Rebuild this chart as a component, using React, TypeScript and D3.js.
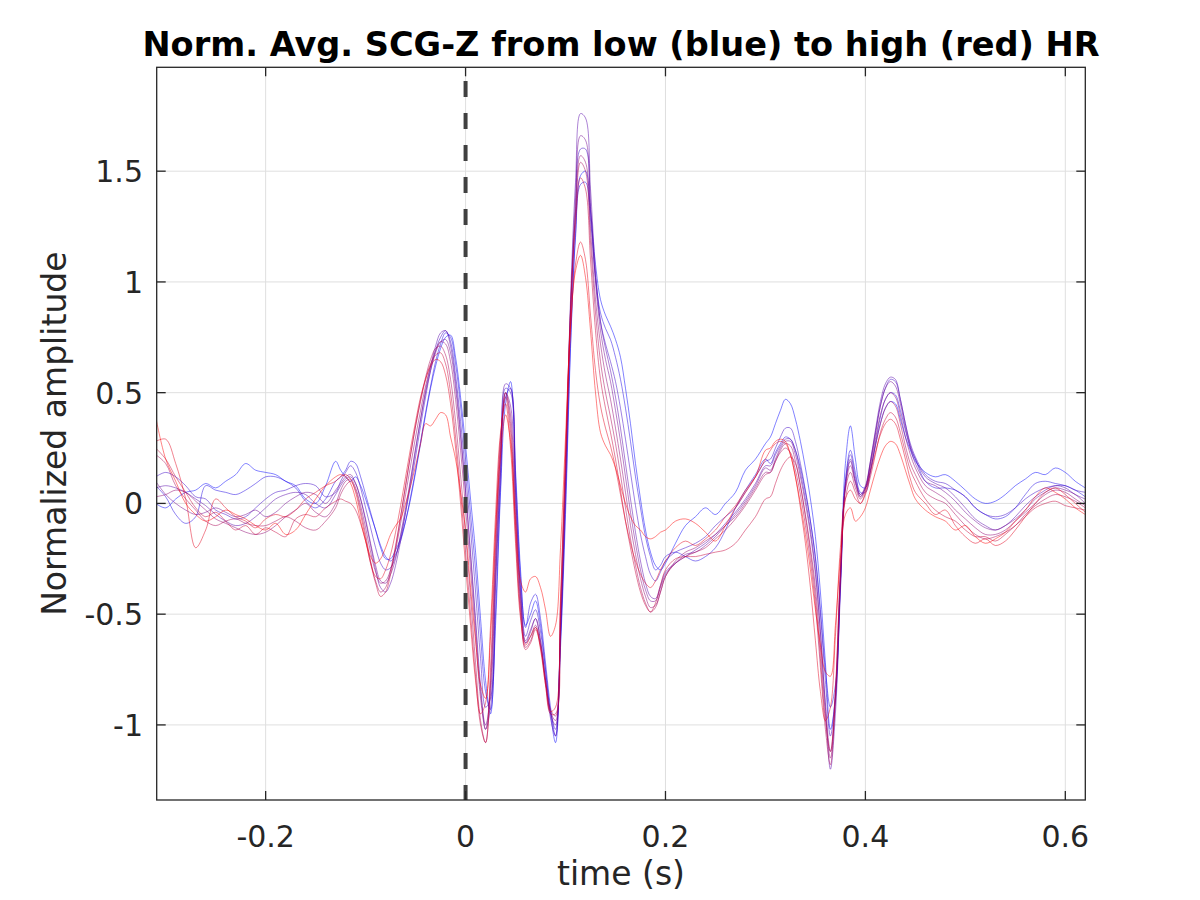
import React from "react";
import * as d3 from "d3";

// ---- sampling grid (s) ----
const r3 = (v: number) => Math.round(v * 10000) / 10000;
const T: number[] = [
  ...d3.range(19).map((i) => r3(-0.31 + i * 0.01)),
  ...d3.range(66).map((i) => r3(-0.125 + i * 0.005)),
  ...d3.range(10).map((i) => r3(0.21 + i * 0.01)),
  ...d3.range(30).map((i) => r3(0.305 + i * 0.005)),
  ...d3.range(17).map((i) => r3(0.46 + i * 0.01)),
];

// ---- series, low HR (blue) -> high HR (red) ----
const hr1 = [
  0.00, -0.02, 0.02, 0.05, 0.06, 0.09, 0.07, 0.10, 0.13, 0.18, 0.15, 0.14, 0.13, 0.10, 0.08, 0.02, 0.00, 0.08, 0.19,
  0.15, 0.12, 0.10, 0.12, 0.08, 0.02, -0.05, -0.12, -0.20, -0.25,
  -0.25, -0.21, -0.16, -0.08, 0.02, 0.14, 0.27, 0.40, 0.52, 0.62,
  0.70, 0.75, 0.76, 0.66, 0.48, 0.26, 0.02, -0.22, -0.52, -0.80,
  -0.95, -0.55, 0.05, 0.45, 0.55, 0.15, -0.30, -0.55, -0.50, -0.44,
  -0.55, -0.75, -0.95, -1.08, -0.65, -0.05, 0.70, 1.22, 1.48, 1.50,
  1.32, 1.08, 0.92, 0.85, 0.80, 0.74, 0.66, 0.52, 0.36, 0.18,
  0.02, -0.12, -0.22, -0.28, -0.30, -0.27,
  -0.18, -0.10, -0.06, -0.02, -0.05, 0.00, 0.05, 0.15, 0.20, 0.27,
  0.30, 0.36, 0.42, 0.47, 0.45, 0.38, 0.28, 0.16, 0.02, -0.15,
  -0.40, -0.72, -1.02, -0.88, -0.35, 0.18, 0.35, 0.20, 0.08, 0.07,
  0.15, 0.26, 0.36, 0.43, 0.46, 0.45, 0.38, 0.30, 0.24, 0.19,
  0.14, 0.12, 0.13, 0.10, 0.06, 0.02, 0.00, 0.01, 0.04, 0.08, 0.11, 0.14, 0.13, 0.16, 0.14, 0.10, 0.07,
];
const hr2 = [
  0.08, 0.03, -0.05, -0.09, -0.06, 0.08, 0.06, 0.05, 0.04, 0.06, 0.09, 0.12, 0.12, 0.10, 0.07, 0.01, -0.02, 0.02, 0.10,
  0.12, 0.15, 0.19, 0.18, 0.12, 0.04, -0.04, -0.12, -0.19, -0.24,
  -0.26, -0.23, -0.17, -0.08, 0.03, 0.15, 0.28, 0.41, 0.53, 0.64,
  0.72, 0.77, 0.75, 0.63, 0.44, 0.20, -0.05, -0.30, -0.60, -0.85,
  -0.93, -0.50, 0.08, 0.48, 0.52, 0.12, -0.33, -0.56, -0.45, -0.41,
  -0.52, -0.72, -0.92, -1.05, -0.62, 0.00, 0.72, 1.20, 1.44, 1.45,
  1.28, 1.02, 0.86, 0.79, 0.74, 0.66, 0.56, 0.43, 0.28, 0.12,
  -0.02, -0.15, -0.24, -0.30, -0.28, -0.24,
  -0.22, -0.24, -0.26, -0.24, -0.20, -0.12, -0.02, 0.06, 0.13, 0.20,
  0.18, 0.23, 0.27, 0.30, 0.29, 0.24, 0.16, 0.05, -0.08, -0.24,
  -0.48, -0.75, -0.92, -0.82, -0.38, 0.10, 0.24, 0.14, 0.05, 0.05,
  0.14, 0.27, 0.39, 0.47, 0.50, 0.49, 0.42, 0.33, 0.25, 0.20,
  0.10, 0.07, 0.07, 0.06, 0.03, -0.02, -0.05, -0.07, -0.06, -0.02, 0.04, 0.09, 0.10, 0.09, 0.08, 0.06, 0.03,
];
const hr3 = [
  0.12, 0.14, 0.12, 0.08, 0.03, 0.02, -0.03, -0.05, -0.07, -0.06, -0.02, 0.02, 0.05, 0.06, 0.08, 0.09, 0.08, 0.03, 0.05,
  0.10, 0.14, 0.17, 0.14, 0.07, -0.02, -0.11, -0.20, -0.27, -0.30,
  -0.29, -0.24, -0.15, -0.04, 0.08, 0.21, 0.35, 0.48, 0.60, 0.69,
  0.75, 0.78, 0.73, 0.58, 0.37, 0.13, -0.12, -0.40, -0.70, -0.92,
  -0.88, -0.35, 0.15, 0.52, 0.50, 0.06, -0.38, -0.60, -0.53, -0.48,
  -0.58, -0.76, -0.94, -1.02, -0.58, 0.06, 0.82, 1.32, 1.60, 1.60,
  1.34, 1.02, 0.82, 0.72, 0.64, 0.55, 0.43, 0.29, 0.14, -0.01,
  -0.14, -0.24, -0.32, -0.35, -0.31, -0.26,
  -0.22, -0.20, -0.18, -0.15, -0.10, -0.06, -0.02, 0.05, 0.12, 0.19,
  0.20, 0.25, 0.30, 0.34, 0.34, 0.28, 0.18, 0.06, -0.08, -0.25,
  -0.50, -0.80, -1.05, -0.86, -0.35, 0.10, 0.22, 0.12, 0.04, 0.07,
  0.18, 0.31, 0.44, 0.52, 0.56, 0.55, 0.47, 0.36, 0.27, 0.21,
  0.13, 0.10, 0.09, 0.06, 0.03, -0.02, -0.05, -0.06, -0.05, -0.02, 0.02, 0.05, 0.07, 0.08, 0.08, 0.06, 0.05,
];
const hr4 = [
  0.07, 0.08, 0.07, 0.05, 0.02, -0.01, -0.05, -0.08, -0.10, -0.09, -0.06, -0.02, 0.02, 0.04, 0.05, 0.04, 0.00, -0.02, 0.04,
  0.08, 0.11, 0.12, 0.09, 0.02, -0.08, -0.19, -0.30, -0.38, -0.40,
  -0.36, -0.28, -0.17, -0.04, 0.10, 0.24, 0.38, 0.51, 0.62, 0.71,
  0.77, 0.78, 0.71, 0.55, 0.32, 0.06, -0.22, -0.52, -0.82, -1.02,
  -0.92, -0.38, 0.14, 0.54, 0.52, 0.05, -0.40, -0.63, -0.58, -0.52,
  -0.62, -0.80, -0.97, -1.05, -0.60, 0.10, 0.92, 1.45, 1.76, 1.74,
  1.42, 1.05, 0.82, 0.70, 0.60, 0.48, 0.34, 0.18, 0.02, -0.13,
  -0.26, -0.36, -0.42, -0.43, -0.37, -0.31,
  -0.27, -0.24, -0.21, -0.18, -0.14, -0.09, -0.04, 0.02, 0.09, 0.17,
  0.17, 0.22, 0.26, 0.29, 0.29, 0.24, 0.14, 0.02, -0.12, -0.30,
  -0.58, -0.92, -1.20, -0.95, -0.40, 0.08, 0.20, 0.10, 0.03, 0.07,
  0.19, 0.33, 0.46, 0.54, 0.57, 0.56, 0.47, 0.36, 0.26, 0.20,
  0.12, 0.09, 0.07, 0.03, -0.02, -0.07, -0.10, -0.12, -0.10, -0.06, -0.01, 0.03, 0.06, 0.08, 0.07, 0.04, 0.02,
];
const hr5 = [
  0.10, 0.04, 0.00, -0.03, -0.05, -0.04, -0.02, -0.04, -0.06, -0.05, -0.03, -0.06, -0.04, 0.00, 0.03, 0.05, 0.04, 0.00, 0.06,
  0.09, 0.12, 0.13, 0.09, 0.02, -0.07, -0.18, -0.28, -0.35, -0.36,
  -0.32, -0.25, -0.14, -0.02, 0.11, 0.25, 0.38, 0.50, 0.60, 0.68,
  0.73, 0.74, 0.68, 0.52, 0.30, 0.05, -0.24, -0.55, -0.85, -1.00,
  -0.86, -0.30, 0.20, 0.50, 0.44, 0.00, -0.42, -0.62, -0.57, -0.52,
  -0.62, -0.80, -0.95, -1.00, -0.56, 0.10, 0.88, 1.38, 1.66, 1.64,
  1.34, 1.00, 0.78, 0.65, 0.55, 0.42, 0.28, 0.12, -0.04, -0.18,
  -0.30, -0.39, -0.44, -0.44, -0.38, -0.32,
  -0.27, -0.23, -0.22, -0.19, -0.15, -0.10, -0.05, 0.01, 0.08, 0.16,
  0.15, 0.20, 0.25, 0.28, 0.28, 0.22, 0.12, 0.00, -0.14, -0.32,
  -0.58, -0.90, -1.12, -0.90, -0.36, 0.08, 0.19, 0.10, 0.04, 0.08,
  0.19, 0.32, 0.44, 0.52, 0.55, 0.53, 0.45, 0.34, 0.25, 0.18,
  0.10, 0.08, 0.05, 0.01, -0.04, -0.08, -0.11, -0.12, -0.10, -0.07, -0.03, 0.02, 0.05, 0.07, 0.06, 0.04, 0.00,
];
const hr6 = [
  0.03, 0.04, 0.06, 0.05, 0.01, -0.03, -0.07, -0.09, -0.11, -0.13, -0.14, -0.13, -0.10, -0.06, -0.03, 0.00, -0.04, -0.06, 0.00,
  0.06, 0.10, 0.11, 0.07, -0.01, -0.11, -0.22, -0.31, -0.36, -0.35,
  -0.30, -0.21, -0.09, 0.04, 0.17, 0.30, 0.42, 0.53, 0.62, 0.69,
  0.73, 0.72, 0.64, 0.47, 0.24, -0.02, -0.30, -0.60, -0.88, -1.02,
  -0.82, -0.25, 0.24, 0.50, 0.40, -0.05, -0.45, -0.63, -0.60, -0.55,
  -0.64, -0.80, -0.94, -0.98, -0.52, 0.14, 0.86, 1.32, 1.57, 1.54,
  1.24, 0.92, 0.72, 0.58, 0.47, 0.34, 0.20, 0.05, -0.10, -0.23,
  -0.34, -0.42, -0.47, -0.46, -0.40, -0.33,
  -0.26, -0.22, -0.20, -0.17, -0.14, -0.10, -0.06, 0.00, 0.07, 0.14,
  0.14, 0.19, 0.24, 0.27, 0.26, 0.19, 0.08, -0.05, -0.20, -0.38,
  -0.65, -0.95, -1.15, -0.88, -0.32, 0.07, 0.17, 0.09, 0.03, 0.07,
  0.17, 0.29, 0.40, 0.47, 0.50, 0.48, 0.40, 0.30, 0.22, 0.16,
  0.08, 0.05, 0.02, -0.03, -0.07, -0.11, -0.14, -0.14, -0.12, -0.08, -0.04, 0.00, 0.04, 0.06, 0.05, 0.02, -0.01,
];
const hr7 = [
  0.22, 0.18, 0.08, 0.02, -0.03, -0.08, -0.10, -0.08, -0.07, -0.09, -0.10, -0.10, -0.08, -0.06, -0.08, -0.11, -0.12, -0.08, -0.02,
  0.04, 0.08, 0.10, 0.06, -0.03, -0.14, -0.26, -0.35, -0.40, -0.38,
  -0.30, -0.19, -0.06, 0.08, 0.22, 0.35, 0.47, 0.57, 0.65, 0.70,
  0.71, 0.67, 0.56, 0.37, 0.13, -0.14, -0.42, -0.72, -0.98, -1.08,
  -0.80, -0.20, 0.28, 0.50, 0.36, -0.10, -0.48, -0.65, -0.62, -0.56,
  -0.64, -0.80, -0.93, -0.96, -0.48, 0.18, 0.88, 1.30, 1.54, 1.50,
  1.18, 0.86, 0.64, 0.50, 0.39, 0.27, 0.13, -0.02, -0.16, -0.28,
  -0.38, -0.45, -0.49, -0.47, -0.40, -0.33,
  -0.27, -0.24, -0.22, -0.20, -0.16, -0.12, -0.07, -0.01, 0.06, 0.13,
  0.14, 0.19, 0.23, 0.25, 0.23, 0.15, 0.04, -0.10, -0.26, -0.46,
  -0.74, -1.02, -1.18, -0.86, -0.30, 0.06, 0.14, 0.07, 0.02, 0.06,
  0.15, 0.26, 0.36, 0.43, 0.46, 0.44, 0.36, 0.26, 0.18, 0.13,
  0.05, 0.02, 0.00, -0.05, -0.10, -0.14, -0.16, -0.15, -0.13, -0.10, -0.05, -0.01, 0.02, 0.04, 0.03, 0.01, -0.02,
];
const hr8 = [
  0.25, 0.20, 0.12, 0.05, -0.02, -0.06, -0.04, -0.08, -0.12, -0.10, -0.14, -0.11, -0.13, -0.15, -0.07, -0.05, -0.06, -0.02, 0.01,
  0.02, 0.01, 0.00, -0.03, -0.09, -0.17, -0.27, -0.36, -0.42, -0.40,
  -0.32, -0.20, -0.06, 0.08, 0.22, 0.35, 0.46, 0.56, 0.63, 0.67,
  0.68, 0.63, 0.50, 0.30, 0.05, -0.22, -0.50, -0.78, -1.00, -1.08,
  -0.74, -0.14, 0.30, 0.48, 0.32, -0.14, -0.50, -0.66, -0.63, -0.57,
  -0.65, -0.82, -0.95, -0.95, -0.45, 0.22, 0.86, 1.26, 1.47, 1.42,
  1.10, 0.78, 0.56, 0.43, 0.32, 0.20, 0.06, -0.08, -0.20, -0.31,
  -0.40, -0.46, -0.49, -0.45, -0.37, -0.30,
  -0.25, -0.24, -0.24, -0.23, -0.22, -0.21, -0.18, -0.12, -0.06, 0.02,
  0.03, 0.09, 0.15, 0.19, 0.21, 0.18, 0.08, -0.06, -0.22, -0.42,
  -0.70, -0.98, -1.12, -0.84, -0.32, 0.02, 0.10, 0.05, 0.00, 0.04,
  0.12, 0.22, 0.32, 0.38, 0.41, 0.39, 0.32, 0.23, 0.15, 0.10,
  0.02, -0.03, -0.06, -0.08, -0.12, -0.15, -0.15, -0.17, -0.14, -0.10, -0.06, -0.02, 0.00, 0.01, -0.01, -0.02, -0.03,
];
const hr9 = [
  0.28, 0.29, 0.18, 0.02, -0.20, -0.12, 0.02, -0.02, -0.06, -0.08, -0.11, -0.07, -0.05, -0.06, -0.03, 0.02, 0.05, 0.08, 0.10,
  0.12, 0.13, 0.11, 0.05, -0.05, -0.16, -0.27, -0.33, -0.34, -0.30,
  -0.23, -0.13, -0.01, 0.12, 0.25, 0.37, 0.48, 0.56, 0.62, 0.65,
  0.64, 0.58, 0.45, 0.25, 0.00, -0.28, -0.55, -0.80, -0.95, -0.90,
  -0.55, -0.05, 0.32, 0.45, 0.25, -0.18, -0.52, -0.64, -0.60, -0.56,
  -0.66, -0.82, -0.94, -0.92, -0.42, 0.22, 0.78, 1.08, 1.18, 1.10,
  0.85, 0.60, 0.44, 0.34, 0.26, 0.16, 0.04, -0.08, -0.18, -0.26,
  -0.32, -0.36, -0.38, -0.35, -0.30, -0.26,
  -0.20, -0.17, -0.19, -0.16, -0.12, -0.06, -0.01, 0.06, 0.12, 0.20,
  0.24, 0.27, 0.28, 0.27, 0.22, 0.12, -0.02, -0.18, -0.38, -0.62,
  -0.85, -0.98, -0.92, -0.60, -0.20, 0.02, 0.06, 0.02, 0.00, 0.05,
  0.14, 0.23, 0.31, 0.36, 0.38, 0.36, 0.29, 0.20, 0.11, 0.05,
  0.00, -0.05, -0.03, -0.10, -0.15, -0.18, -0.16, -0.19, -0.17, -0.12, -0.06, 0.00, 0.05, 0.07, 0.04, 0.00, -0.04,
];
const hr10 = [
  0.39, 0.20, 0.10, 0.00, -0.05, -0.08, -0.06, -0.03, -0.05, -0.07, -0.10, -0.12, -0.09, -0.14, -0.12, -0.05, 0.02, 0.08, 0.12,
  0.13, 0.12, 0.09, 0.02, -0.08, -0.17, -0.24, -0.27, -0.25, -0.20,
  -0.14, -0.10, -0.07, 0.00, 0.08, 0.17, 0.27, 0.36, 0.35, 0.38,
  0.41, 0.40, 0.30, 0.20, 0.05, -0.12, -0.38, -0.62, -0.82, -0.88,
  -0.60, -0.12, 0.22, 0.40, 0.28, -0.08, -0.35, -0.40, -0.34, -0.33,
  -0.38, -0.48, -0.60, -0.55, -0.20, 0.30, 0.80, 1.05, 1.12, 1.02,
  0.78, 0.50, 0.32, 0.26, 0.22, 0.16, 0.08, 0.00, -0.06, -0.10,
  -0.12, -0.15, -0.16, -0.15, -0.13, -0.12,
  -0.08, -0.07, -0.09, -0.13, -0.17, -0.10, -0.02, 0.05, 0.12, 0.24,
  0.25, 0.28, 0.29, 0.28, 0.22, 0.12, 0.00, -0.14, -0.30, -0.48,
  -0.64, -0.76, -0.78, -0.55, -0.25, -0.05, -0.02, -0.08, -0.06, -0.02,
  0.06, 0.14, 0.21, 0.26, 0.28, 0.27, 0.22, 0.15, 0.08, 0.02,
  -0.03, -0.06, -0.08, -0.12, -0.10, -0.15, -0.18, -0.16, -0.13, -0.08, -0.03, 0.03, 0.07, 0.05, 0.02, -0.02, -0.05,
];

const SERIES = [hr1, hr2, hr3, hr4, hr5, hr6, hr7, hr8, hr9, hr10];
const X_TICKS = [-0.2, 0, 0.2, 0.4, 0.6];
const Y_TICKS = [-1, -0.5, 0, 0.5, 1, 1.5];
const TITLE = "Norm. Avg. SCG-Z from low (blue) to high (red) HR";
const X_LABEL = "time (s)";
const Y_LABEL = "Normalized amplitude";

const L = 156.7, R = 1085.3, TOP = 67.3, BOT = 800;
const AX = "#262626";
const FONT = "'DejaVu Sans', sans-serif";

export default function App() {
  const x = d3.scaleLinear().domain([-0.309, 0.62]).range([L, R]);
  const y = d3.scaleLinear().domain([-1.339, 1.969]).range([BOT, TOP]);
  const color = d3.interpolateRgb("rgb(0,0,255)", "rgb(255,0,0)");
  const line = d3
    .line<number>()
    .x((_, i) => x(T[i]))
    .y((d) => y(d))
    .curve(d3.curveCatmullRom.alpha(0.5));
  const tickLen = 9;
  return (
    <div style={{ position: "absolute", left: 0, top: 0 }}>
      <svg width={1200} height={900} style={{ display: "block", background: "#fff" }} fontFamily={FONT}>
        <defs>
          <clipPath id="plotclip">
            <rect x={L} y={TOP} width={R - L} height={BOT - TOP} />
          </clipPath>
        </defs>
        <rect x={0} y={0} width={1200} height={900} fill="#fff" />
        {/* grid */}
        {X_TICKS.map((t) => (
          <line key={"gx" + t} x1={x(t)} x2={x(t)} y1={TOP} y2={BOT} stroke="#dfdfdf" strokeWidth={1} />
        ))}
        {Y_TICKS.map((t) => (
          <line key={"gy" + t} x1={L} x2={R} y1={y(t)} y2={y(t)} stroke="#dfdfdf" strokeWidth={1} />
        ))}
        {/* series */}
        <g clipPath="url(#plotclip)">
          {SERIES.map((s, k) => (
            <path
              key={k}
              d={line(s.slice(0, T.length)) || ""}
              fill="none"
              stroke={color(k / (SERIES.length - 1))}
              strokeOpacity={0.55}
              strokeWidth={0.9}
            />
          ))}
          <line
            x1={x(0)}
            x2={x(0)}
            y1={TOP}
            y2={BOT}
            stroke="#404040"
            strokeWidth={4}
            strokeDasharray="16 16"
            strokeDashoffset={18.3}
          />
        </g>
        {/* box */}
        <rect x={L} y={TOP} width={R - L} height={BOT - TOP} fill="none" stroke={AX} strokeWidth={1.3} />
        {/* ticks */}
        {X_TICKS.map((t) => (
          <g key={"tx" + t}>
            <line x1={x(t)} x2={x(t)} y1={BOT} y2={BOT - tickLen} stroke={AX} strokeWidth={1.3} />
            <line x1={x(t)} x2={x(t)} y1={TOP} y2={TOP + tickLen} stroke={AX} strokeWidth={1.3} />
            <text x={x(t)} y={847} textAnchor="middle" fontSize={30} fill={AX}>
              {String(t)}
            </text>
          </g>
        ))}
        {Y_TICKS.map((t) => (
          <g key={"ty" + t}>
            <line x1={L} x2={L + tickLen} y1={y(t)} y2={y(t)} stroke={AX} strokeWidth={1.3} />
            <line x1={R} x2={R - tickLen} y1={y(t)} y2={y(t)} stroke={AX} strokeWidth={1.3} />
            <text x={143} y={y(t) + 11} textAnchor="end" fontSize={30} fill={AX}>
              {String(t)}
            </text>
          </g>
        ))}
        {/* labels */}
        <text x={(L + R) / 2} y={885} textAnchor="middle" fontSize={33} fill={AX}>
          {X_LABEL}
        </text>
        <text
          transform={`translate(66,${(TOP + BOT) / 2}) rotate(-90)`}
          textAnchor="middle"
          fontSize={33}
          fill={AX}
        >
          {Y_LABEL}
        </text>
        <text x={(L + R) / 2} y={56} textAnchor="middle" fontSize={33.6} fontWeight="bold" fill="#000">
          {TITLE}
        </text>
      </svg>
    </div>
  );
}
